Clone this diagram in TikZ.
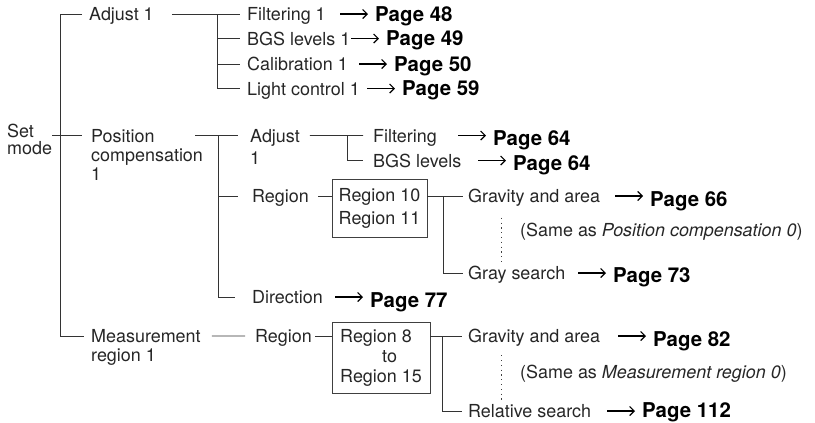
\documentclass[tikz,border=0pt]{standalone}
\usepackage{fontspec}
\setmainfont{TeX Gyre Heros}
\usetikzlibrary{arrows.meta,positioning,calc}

\begin{document}
\begin{tikzpicture}[
  x=1bp, y=-1bp,
  tx/.style={inner sep=0pt, text=black!85, font=\fontsize{18}{19}\selectfont},
  item/.style={tx, anchor=west, text height=13bp, text depth=0pt},
  multi/.style={tx, anchor=north west, align=left},
  note/.style={tx, anchor=base west},
  pg/.style={inner sep=0pt, anchor=base west, font=\fontsize{20.5}{22}\selectfont\bfseries},
  regbox/.style={tx, draw=black!75, line width=0.9bp, align=left},
  tree/.style={draw=black!80, line width=0.9bp},
  pto/.style={-{Straight Barb[length=4.5bp,width=9bp]}, line width=1.2bp},
  dots/.style={draw=black!75, line width=0.9bp, dash pattern=on 1.2bp off 3.6bp},
]
\newcommand{\topage}[5]{%
  \node[pg] (#2) at (#3,#4) {#5};
  \draw[pto] ([xshift=-35bp]#2.west |- #1.west) -- ([xshift=-7bp]#2.west |- #1.west);}
\useasboundingbox (0,0) rectangle (815,422);
% ---------------- root and first level ----------------
\node[multi] (setm) at (7,124) {Set\\[-2bp]mode};
\node[item] (adj1) at (89,14) {Adjust 1};
\node[multi] (pos1) at (91,129) {Position\\compensation\\1};
\node[multi] (meas1) at (91,329.5) {Measurement\\region 1};
\coordinate (k0) at (60,14);
\coordinate (pos1l) at ([xshift=-9bp,yshift=-6.5bp]pos1.north west);
\coordinate (meas1l) at ([xshift=-7bp,yshift=-6.5bp]meas1.north west);
\draw[tree] ([xshift=-7bp]adj1.west) -- (k0) |- (meas1l);
\draw[tree] (setm.east |- pos1l) -- (pos1l);
% ---------------- Adjust 1 ----------------
\node[item] (f1) at (247,14) {Filtering 1};
\node[item] (b1) at (247,38.5) {BGS levels 1};
\node[item] (c1) at (247,64) {Calibration 1};
\node[item] (l1) at (247,88.5) {Light control 1};
\coordinate (k1) at (217,14);
\draw[tree] ([xshift=18bp]adj1.east) -- ([xshift=-7bp]f1.west);
\draw[tree] (k1) |- ([xshift=-7bp]l1.west);
\draw[tree] (k1 |- b1.west) -- ([xshift=-7bp]b1.west);
\draw[tree] (k1 |- c1.west) -- ([xshift=-7bp]c1.west);
\topage{f1}{p48}{375}{21}{Page 48}
\topage{b1}{p49}{386}{45.5}{Page 49}
\topage{c1}{p50}{394}{71}{Page 50}
\topage{l1}{p59}{402}{95.5}{Page 59}
% ---------------- Position compensation 1 ----------------
\coordinate (k2) at (218,135.5);
\coordinate (pos1r) at ([xshift=-8bp,yshift=-6.5bp]pos1.north east);
\node[multi] (adj2) at (250,129) {Adjust\\[3bp]1};
\node[item] (reg2) at (252,196) {Region};
\node[item] (dir) at (252,297) {Direction};
\coordinate (adj2l) at ([xshift=-12bp,yshift=-6.5bp]adj2.north west);
\draw[tree] (pos1r) -- (adj2l);
\draw[tree] (k2) |- ([xshift=-17bp]dir.west);
\draw[tree] (k2 |- reg2.west) -- ([xshift=-14bp]reg2.west);
\topage{dir}{p77}{370}{307}{Page 77}
% adjust
\node[item] (f2) at (373,135.5) {Filtering};
\node[item] (b2) at (373,160.5) {BGS levels};
\coordinate (k5) at (347,135.5);
\coordinate (adj2r) at ([xshift=10bp,yshift=-6.5bp]adj2.north east);
\draw[tree] (adj2r) -- ([xshift=-10bp]f2.west);
\draw[tree] (k5) |- ([xshift=-10bp]b2.west);
\topage{f2}{p64a}{493}{145}{Page 64}
\topage{b2}{p64b}{513}{170}{Page 64}
% region
\node[regbox, minimum width=95bp, minimum height=58bp] (rb1) at (379.5,208)
     {Region 10\\[4bp]Region 11};
\draw[tree] ([xshift=9bp]reg2.east) -- (rb1.west |- reg2.west);
\coordinate (k3) at (443,196);
\node[item] (grav1) at (468,196) {Gravity and area};
\node[item] (gray1) at (468,273) {Gray search};
\draw[tree] (rb1.east |- k3) -- ([xshift=-5bp]grav1.west);
\draw[tree] (k3) |- ([xshift=-5bp]gray1.west);
\draw[dots] ([xshift=33bp,yshift=-15bp]grav1.south west) -- ([xshift=33bp,yshift=1.5bp]gray1.north west);
\node[note] (n1) at (520,236) {(Same as \textit{Position compensation 0})};
\topage{grav1}{p66}{650}{206}{Page 66}
\topage{gray1}{p73}{613}{282.5}{Page 73}
% ---------------- Measurement region 1 ----------------
\coordinate (meas1r) at ([xshift=11bp,yshift=-6.5bp]meas1.north east);
\node[item] (reg3) at (255,336) {Region};
\draw[tree] (meas1r) -- ([xshift=-10bp]reg3.west);
\node[regbox, minimum width=98bp, minimum height=71bp] (rb2) at (381,357.5)
     {Region 8\\[1bp]\hspace*{42bp}to\\[1bp]Region 15};
\draw[tree] ([xshift=3bp]reg3.east) -- (rb2.west |- reg3.west);
\coordinate (k4) at (442,336);
\node[item] (grav2) at (468,336) {Gravity and area};
\node[item] (rel) at (468,411) {Relative search};
\draw[tree] (rb2.east |- k4) -- ([xshift=-6bp]grav2.west);
\draw[tree] (k4) |- ([xshift=-6bp]rel.west);
\draw[dots] ([xshift=33bp,yshift=-12.5bp]grav2.south west) -- ([xshift=33bp,yshift=4.5bp]rel.north west);
\node[note] (n2) at (520,378) {(Same as \textit{Measurement region 0})};
\topage{grav2}{p82}{653}{346}{Page 82}
\topage{rel}{p112}{642}{417.5}{Page 112}
\end{tikzpicture}
\end{document}
